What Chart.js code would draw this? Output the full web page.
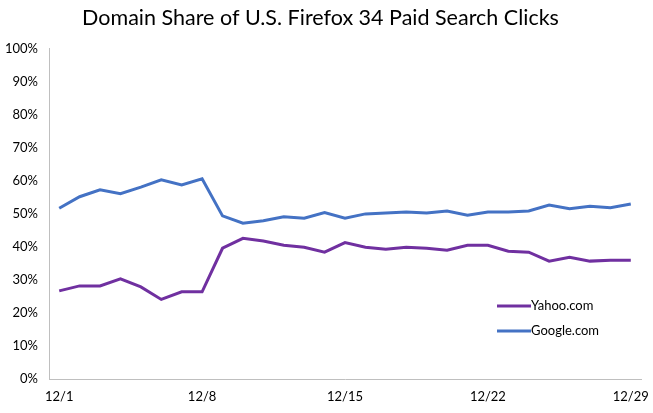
<!DOCTYPE html>
<html>
<head>
<meta charset="utf-8">
<script src="https://cdn.jsdelivr.net/npm/chart.js@4"></script>
<style>
  html, body { margin: 0; padding: 0; background: #fff; }
  #box { width: 653px; height: 413px; }
</style>
</head>
<body>
<div id="box"><canvas id="chart"></canvas></div>
<script>
// ---- data ----
const days = [];
for (let d = 1; d <= 29; d++) days.push("12/" + d);

const yahoo = [26.7, 28.2, 28.2, 30.3, 27.9, 24.1, 26.4, 26.4, 39.6, 42.6,
               41.8, 40.5, 39.9, 38.4, 41.3, 39.9, 39.3, 39.9, 39.6, 39.0,
               40.5, 40.5, 38.7, 38.4, 35.7, 36.9, 35.7, 36.0, 36.0];
const google = [51.7, 55.2, 57.3, 56.1, 58.1, 60.3, 58.8, 60.6, 49.4, 47.2,
                47.9, 49.1, 48.7, 50.4, 48.7, 50.0, 50.3, 50.6, 50.3, 50.9,
                49.6, 50.6, 50.6, 50.9, 52.7, 51.6, 52.3, 51.9, 53.0];

const FONT = "Lato, 'Open Sans', sans-serif";

// legend drawn inside the plot, bottom right
const insideLegend = {
  id: "insideLegend",
  afterDraw(chart) {
    const ctx = chart.ctx;
    const x0 = 497, ys = [306, 331];
    ctx.save();
    ctx.font = "13px " + FONT;
    ctx.textBaseline = "middle";
    chart.data.datasets.forEach((ds, i) => {
      ctx.strokeStyle = ds.borderColor;
      ctx.lineWidth = 3;
      ctx.beginPath();
      ctx.moveTo(x0, ys[i]);
      ctx.lineTo(x0 + 34, ys[i]);
      ctx.stroke();
      ctx.fillStyle = "#000";
      ctx.fillText(ds.label, x0 + 34, ys[i]);
    });
    ctx.restore();
  }
};

new Chart(document.getElementById("chart"), {
  type: "line",
  data: {
    labels: days,
    datasets: [
      { label: "Yahoo.com", data: yahoo, borderColor: "#7030A0", borderWidth: 3,
        pointRadius: 0, tension: 0 },
      { label: "Google.com", data: google, borderColor: "#4472C4", borderWidth: 3,
        pointRadius: 0, tension: 0 }
    ]
  },
  options: {
    responsive: true,
    maintainAspectRatio: false,
    animation: false,
    layout: { padding: { left: 0, right: 12, top: 0, bottom: 0 } },
    plugins: {
      legend: { display: false },
      tooltip: { enabled: false },
      title: {
        display: true,
        text: "Domain Share of U.S. Firefox 34 Paid Search Clicks",
        color: "#000",
        font: { family: FONT, size: 21.5, weight: "normal" },
        padding: { top: 5, bottom: 18 }
      }
    },
    scales: {
      x: {
        offset: true,
        grid: { display: false, drawTicks: false },
        border: { color: "#BFBFBF", width: 1 },
        afterFit: s => { s.height = 34; s.paddingLeft = 0; s.paddingRight = 0; },
        ticks: {
          autoSkip: false,
          maxRotation: 0,
          color: "#000",
          padding: 11,
          font: { family: FONT, size: 13, lineHeight: 1 },
          callback: function(v, i) { return i % 7 === 0 ? this.getLabelForValue(v) : ""; }
        }
      },
      y: {
        min: 0, max: 100,
        grid: { display: false, drawTicks: false },
        border: { color: "#BFBFBF", width: 1 },
        afterFit: s => { s.width = 49; s.paddingTop = 0; s.paddingBottom = 0; },
        ticks: {
          stepSize: 10,
          color: "#000",
          padding: 11,
          font: { family: FONT, size: 13 },
          callback: v => v + "%"
        }
      }
    }
  },
  plugins: [insideLegend]
});
</script>
</body>
</html>
